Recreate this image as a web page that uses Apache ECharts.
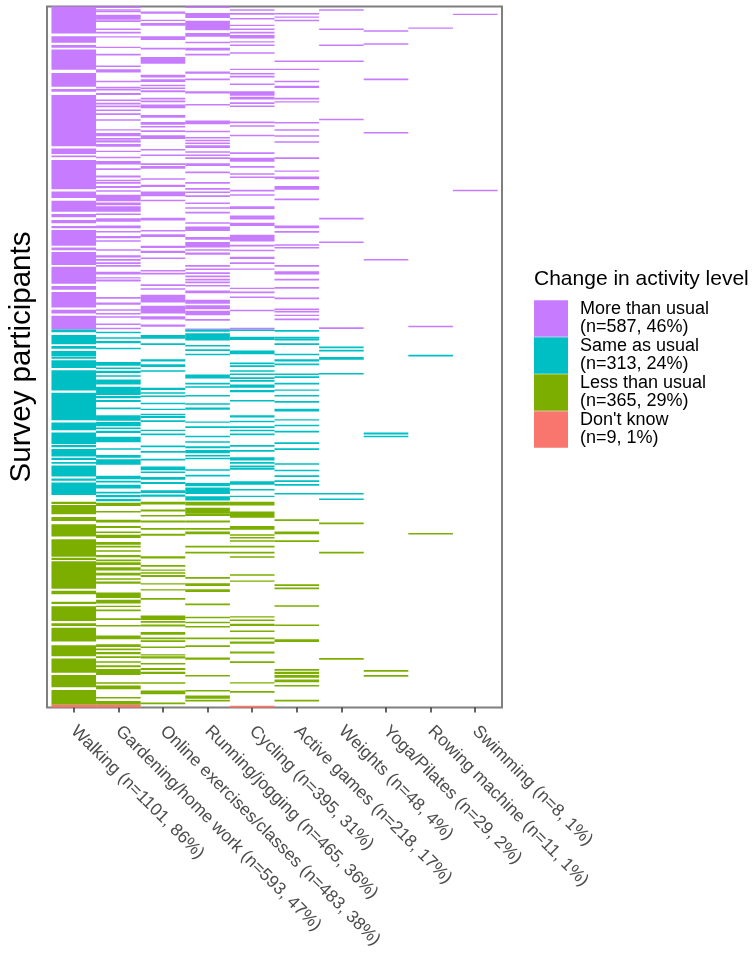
<!DOCTYPE html>
<html><head><meta charset="utf-8">
<style>html,body{margin:0;padding:0;background:#fff}#c{width:755px;height:953px}</style>
<script src="https://cdn.jsdelivr.net/npm/echarts@6/dist/echarts.min.js"></script>
</head><body><div id="c"></div>
<script>
const activityLabels=["Walking (n=1101, 86%)","Gardening/home work (n=593, 47%)","Online exercises/classes (n=483, 38%)","Running/jogging (n=465, 36%)","Cycling (n=395, 31%)","Active games (n=218, 17%)","Weights (n=48, 4%)","Yoga/Pilates (n=29, 2%)","Rowing machine (n=11, 1%)","Swimming (n=8, 1%)"];
const statusNames=["More than usual\n(n=587, 46%)","Same as usual\n(n=313, 24%)","Less than usual\n(n=365, 29%)","Don't know\n(n=9, 1%)"];
const statusColors=["#C77CFF","#00BFC4","#7CAE00","#F8766D"];
const statusFirstRow=[0,587,900,1269];
const totalRows=1274;
// Each list: runs of participant rows [first,last) who reported the activity
const walking=[[0,49],[54,66],[70,75],[78,115],[121,146],[150,155],[161,254],[258,268],[271,274],[279,332],[336,348],[353,373],[377,383],[388,394],[399,403],[406,435],[438,443],[446,470],[473,504],[508,515],[519,547],[551,558],[562,592],[597,614],[617,622],[626,635],[636,640],[643,657],[661,698],[702,752],[756,770],[774,795],[797,801],[804,818],[820,824],[828,831],[834,854],[858,862],[865,888],[900,904],[906,923],[928,935],[941,963],[968,1000],[1002,1006],[1008,1058],[1062,1068],[1082,1086],[1090,1117],[1121,1126],[1129,1154],[1161,1181],[1185,1211],[1215,1237],[1242,1274]];
const gardening=[[0,2],[5,7],[8,10],[15,24],[25,28],[40,42],[46,49],[54,56],[73,75],[86,89],[107,110],[114,120],[135,137],[146,149],[150,152],[157,161],[169,171],[175,178],[180,183],[187,190],[194,197],[205,207],[223,225],[230,236],[239,242],[243,247],[250,255],[262,264],[273,276],[281,287],[294,297],[307,311],[315,317],[319,322],[326,330],[334,336],[342,354],[356,361],[363,373],[376,379],[385,391],[398,403],[408,410],[417,421],[425,427],[441,444],[452,456],[459,462],[465,468],[470,473],[482,487],[492,494],[496,500],[528,531],[538,542],[550,553],[557,559],[563,564],[576,579],[584,586],[591,594],[601,604],[608,612],[620,623],[646,653],[656,659],[662,666],[670,673],[678,687],[691,706],[708,712],[715,719],[729,732],[743,753],[755,763],[765,768],[771,775],[782,792],[803,805],[815,820],[823,833],[853,859],[862,865],[869,876],[882,885],[888,892],[895,899],[902,908],[917,919],[933,938],[944,948],[954,957],[960,966],[973,978],[980,983],[988,991],[997,1001],[1005,1008],[1010,1015],[1019,1025],[1029,1034],[1039,1042],[1045,1049],[1065,1075],[1078,1085],[1089,1091],[1096,1099],[1112,1115],[1124,1127],[1143,1150],[1159,1164],[1167,1170],[1173,1177],[1181,1184],[1190,1192],[1197,1201],[1204,1215],[1228,1231],[1234,1241],[1255,1257],[1262,1274]];
const online=[[9,13],[24,26],[30,35],[54,61],[75,78],[92,104],[124,129],[132,137],[142,145],[147,150],[152,156],[166,169],[171,174],[178,185],[197,202],[210,215],[217,220],[225,228],[234,241],[259,261],[269,271],[285,288],[290,295],[312,315],[324,328],[336,345],[351,354],[384,389],[406,409],[414,419],[435,439],[444,448],[456,459],[479,481],[484,487],[505,508],[512,515],[524,538],[544,558],[563,569],[578,582],[597,604],[612,615],[641,645],[650,655],[661,664],[693,697],[701,704],[707,709],[720,723],[731,732],[740,743],[744,748],[752,755],[769,771],[776,779],[798,801],[808,811],[822,825],[836,843],[845,848],[855,860],[864,868],[879,884],[887,891],[900,905],[914,918],[924,927],[934,938],[948,951],[958,962],[999,1003],[1015,1018],[1023,1025],[1028,1031],[1033,1037],[1048,1050],[1059,1061],[1075,1078],[1107,1115],[1117,1120],[1123,1127],[1137,1142],[1147,1150],[1152,1155],[1163,1166],[1177,1179],[1181,1185],[1193,1196],[1202,1206],[1209,1213],[1228,1231],[1243,1250],[1265,1268]];
const running=[[0,2],[12,21],[26,43],[48,55],[64,67],[75,80],[86,89],[118,122],[131,134],[154,158],[177,180],[207,214],[226,228],[237,240],[242,245],[247,250],[252,257],[263,266],[269,271],[274,277],[285,290],[300,303],[319,322],[330,333],[336,339],[343,346],[356,359],[365,367],[373,376],[392,395],[400,408],[419,424],[428,438],[441,444],[447,451],[470,473],[476,479],[483,486],[489,492],[495,498],[500,503],[506,509],[516,521],[533,540],[543,550],[553,561],[568,571],[585,591],[594,607],[615,618],[623,626],[631,634],[669,676],[684,687],[690,693],[706,709],[721,724],[729,733],[754,756],[763,766],[780,783],[790,793],[799,803],[806,812],[815,818],[820,823],[841,843],[851,854],[866,872],[874,886],[890,898],[900,907],[911,922],[922,926],[934,938],[948,951],[954,959],[980,983],[991,994],[1037,1040],[1048,1053],[1059,1064],[1085,1088],[1109,1112],[1118,1121],[1126,1128],[1147,1150],[1161,1164],[1183,1187],[1215,1217],[1242,1245],[1252,1258],[1260,1263]];
const cycling=[[5,7],[12,15],[21,23],[33,35],[40,42],[46,49],[52,58],[63,65],[69,72],[83,86],[113,115],[121,123],[126,129],[140,142],[154,162],[164,169],[174,177],[180,182],[209,212],[216,217],[233,236],[265,268],[275,282],[290,293],[303,306],[309,311],[333,336],[341,344],[363,368],[380,387],[393,399],[415,427],[433,436],[442,445],[455,459],[465,468],[476,478],[511,513],[518,521],[527,530],[551,554],[584,589],[600,606],[625,632],[647,650],[652,655],[661,664],[667,669],[674,677],[679,682],[687,693],[697,701],[715,718],[743,747],[753,755],[763,766],[769,772],[776,779],[797,800],[806,809],[819,825],[828,831],[834,837],[838,842],[863,869],[877,879],[889,891],[900,907],[918,929],[944,951],[959,962],[964,967],[970,972],[980,983],[991,994],[999,1002],[1032,1034],[1043,1045],[1108,1110],[1114,1117],[1122,1126],[1134,1137],[1147,1150],[1154,1158],[1172,1176],[1190,1193],[1228,1230],[1244,1247],[1271,1274]];
const activeGames=[[12,14],[18,20],[24,27],[98,101],[113,115],[135,137],[144,148],[166,169],[172,174],[210,212],[223,226],[234,236],[245,247],[274,277],[298,300],[309,314],[326,333],[349,352],[398,403],[408,411],[432,435],[437,440],[470,473],[481,487],[495,498],[510,513],[529,532],[549,551],[553,556],[560,562],[567,570],[588,591],[600,602],[603,607],[612,615],[631,634],[641,645],[649,652],[667,669],[672,675],[684,687],[696,698],[706,709],[717,720],[731,736],[750,752],[760,763],[771,774],[792,795],[803,806],[830,833],[842,844],[852,855],[861,864],[868,871],[884,887],[932,935],[954,959],[970,973],[1050,1053],[1056,1059],[1088,1091],[1123,1126],[1150,1155],[1204,1207],[1209,1213],[1215,1220],[1223,1228],[1233,1236],[1260,1263]];
const weights=[[5,7],[40,42],[69,72],[98,101],[204,206],[384,387],[427,430],[583,586],[618,621],[624,627],[637,642],[666,669],[884,887],[894,897],[938,941],[991,994],[1184,1187]];
const yoga=[[43,46],[67,69],[131,134],[228,231],[459,461],[774,778],[780,783],[1206,1209],[1215,1218]];
const rowing=[[38,40],[580,583],[633,636],[957,959]];
const swimming=[[13,15],[333,335]];
const activityRuns=[walking,gardening,online,running,cycling,activeGames,weights,yoga,rowing,swimming];

const tickValues=activityLabels.map((_,i)=>i+1);
function statusData(s){
  const lo=statusFirstRow[s],hi=s<3?statusFirstRow[s+1]:totalRows,out=[];
  activityRuns.forEach((runs,c)=>runs.forEach(r=>{
    const a=Math.max(r[0],lo),b=Math.min(r[1],hi);
    if(b>a)out.push([c+1,a,b]);
  }));
  return out;
}
function renderTile(params,api){
  const c=api.value(0),p0=api.coord([c-0.5,api.value(1)]),p1=api.coord([c+0.5,api.value(2)]);
  return {type:'rect',shape:{x:p0[0],y:p0[1],width:p1[0]-p0[0],height:Math.max(p1[1]-p0[1],1.4)},style:{fill:api.visual('color')}};
}
const chart=echarts.init(document.getElementById('c'),null,{renderer:'canvas'});
const F='"Liberation Sans",Arial,sans-serif';
chart.setOption({
  animation:false,backgroundColor:'#fff',
  title:{text:'Change in activity level',left:534,top:269,textStyle:{fontFamily:F,fontSize:21,fontWeight:'normal',color:'#000'},padding:0},
  grid:{left:47,top:6.5,width:455,height:701,show:true,borderColor:'#7f7f7f',borderWidth:2,backgroundColor:'#fff',containLabel:false,outerBoundsMode:'none'},
  xAxis:{type:'value',min:0.4,max:10.6,position:'bottom',splitLine:{show:false},axisLine:{show:false,onZero:false},
    axisTick:{show:true,length:5,lineStyle:{color:'#333',width:1.5},customValues:tickValues},
    axisLabel:{customValues:tickValues,rotate:-45,margin:21,fontFamily:F,fontSize:17.5,color:'#4D4D4D',hideOverlap:false,formatter:v=>activityLabels[Math.round(v)-1]||''}},
  yAxis:{type:'value',inverse:true,min:0,max:totalRows,splitLine:{show:false},axisLine:{show:false},axisTick:{show:false},axisLabel:{show:false},
    name:'Survey participants',nameLocation:'middle',nameRotate:90,nameGap:10,nameTextStyle:{fontFamily:F,fontSize:29.5,color:'#000'}},
  legend:{orient:'vertical',left:534,top:300,padding:0,itemGap:0,itemWidth:34,itemHeight:36.3,icon:'rect',selectedMode:false,
    data:statusNames,textStyle:{fontFamily:F,fontSize:18,lineHeight:18,color:'#000',padding:[1,0,0,7]}},
  series:statusNames.map((n,s)=>({type:'custom',name:n,renderItem:renderTile,data:statusData(s),encode:{x:0,y:[1,2]},itemStyle:{color:statusColors[s]},silent:true,progressive:0}))
});
</script></body></html>
